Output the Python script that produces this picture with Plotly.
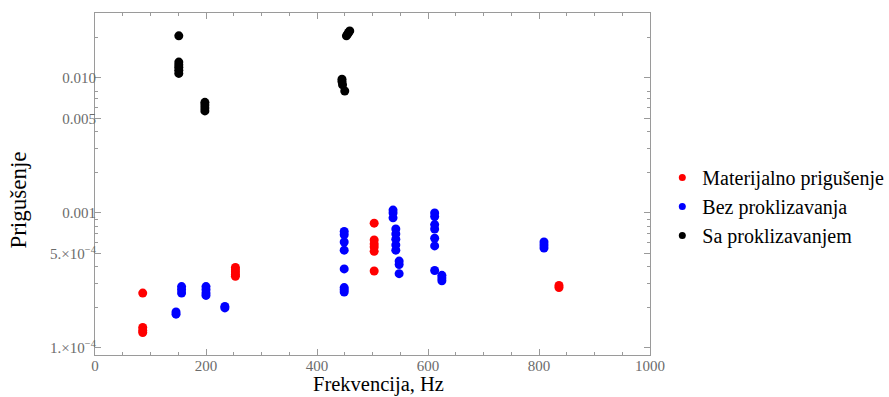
import plotly.graph_objects as go

# ---- data ----
mat_freq = [86, 86, 86, 86, 253, 253, 253, 253, 253, 503, 503, 503, 503, 503, 503, 836, 836]
mat_damp = [2.55e-4, 1.42e-4, 1.35e-4, 1.3e-4, 3.95e-4, 3.8e-4, 3.65e-4, 3.5e-4, 3.4e-4,
            8.4e-4, 6.3e-4, 5.9e-4, 5.6e-4, 5.2e-4, 3.72e-4, 2.9e-4, 2.8e-4]

bez_freq = [146, 146, 156, 156, 156, 200, 200, 200, 200, 234, 234,
            449, 449, 449, 449, 449, 449, 449, 449,
            537, 537, 537, 542, 542, 542, 542, 542, 548, 548, 548,
            612, 612, 612, 612, 612, 612, 612, 625, 625, 625, 809, 809, 809]
bez_damp = [1.85e-4, 1.78e-4, 2.85e-4, 2.7e-4, 2.55e-4, 2.85e-4, 2.7e-4, 2.55e-4, 2.45e-4, 2.03e-4, 1.98e-4,
            7.3e-4, 6.9e-4, 6.1e-4, 5.3e-4, 3.85e-4, 2.8e-4, 2.7e-4, 2.6e-4,
            1.05e-3, 1.0e-3, 9.2e-4, 7.6e-4, 7.0e-4, 6.4e-4, 5.8e-4, 5.3e-4, 4.4e-4, 4.15e-4, 3.55e-4,
            1.0e-3, 9.4e-4, 8.2e-4, 7.6e-4, 6.5e-4, 5.7e-4, 3.75e-4, 3.45e-4, 3.3e-4, 3.15e-4,
            6.1e-4, 5.8e-4, 5.5e-4]

sa_freq = [151, 151, 151, 151, 151, 151, 198, 198, 198, 198, 445, 445, 446, 450, 453, 455, 457, 459]
sa_damp = [0.0205, 0.0131, 0.0125, 0.012, 0.0114, 0.0108, 0.0066, 0.0063, 0.006, 0.0057,
           0.0098, 0.0094, 0.0089, 0.0080, 0.0205, 0.0211, 0.0217, 0.0223]

series_names = ["Materijalno prigušenje", "Bez proklizavanja", "Sa proklizavanjem"]
x_title = "Frekvencija, Hz"
y_title = "Prigušenje"

x_ticks = [0, 200, 400, 600, 800, 1000]
x_minor = [50, 100, 150, 250, 300, 350, 450, 500, 550, 650, 700, 750, 850, 900, 950]
y_ticks = [1e-4, 5e-4, 1e-3, 5e-3, 1e-2]
y_labels = ["1.×10<sup>−4</sup>", "5.×10<sup>−4</sup>", "0.001", "0.005", "0.010"]
y_minor = [2e-4, 3e-4, 4e-4, 6e-4, 7e-4, 8e-4, 9e-4, 2e-3, 3e-3, 4e-3, 6e-3, 7e-3, 8e-3, 2e-2]

serif = "Liberation Serif"
fig = go.Figure()
for name, xs, ys, col in [(series_names[0], mat_freq, mat_damp, "#ff0000"),
                          (series_names[1], bez_freq, bez_damp, "#0000ff"),
                          (series_names[2], sa_freq, sa_damp, "#000000")]:
    fig.add_trace(go.Scatter(x=xs, y=ys, mode="markers", name=name, showlegend=False,
                             marker=dict(color=col, size=9, line=dict(width=0))))
    fig.add_trace(go.Scatter(x=[None], y=[None], mode="markers", name=name,
                             marker=dict(color=col, size=7, line=dict(width=0))))

axis_common = dict(showline=True, linecolor="#9a9a9a", linewidth=1, mirror="ticks",
                   ticks="inside", ticklen=6, tickcolor="#9a9a9a", showgrid=False, zeroline=False,
                   automargin=False,
                   tickfont=dict(family=serif, size=15, color="#6b6b6b"))

fig.update_xaxes(range=[0, 1000], tickvals=x_ticks, ticklabelstandoff=-3,
                 minor=dict(tickvals=x_minor, ticks="inside", ticklen=3, tickcolor="#9a9a9a"),
                 **axis_common)
fig.update_yaxes(type="log", range=[-4.052, -1.519], tickvals=y_ticks, ticktext=y_labels,
                 ticklabelstandoff=-5,
                 minor=dict(tickvals=y_minor, ticks="inside", ticklen=3, tickcolor="#9a9a9a"),
                 **axis_common)

fig.add_annotation(text=x_title, xref="paper", yref="paper", x=0.5117, y=-0.1225,
                   xanchor="center", yanchor="bottom", showarrow=False, borderpad=0,
                   font=dict(family=serif, size=20.5, color="black"))
fig.add_annotation(text=y_title, xref="paper", yref="paper", x=-0.1378, y=0.453,
                   xanchor="center", yanchor="middle", showarrow=False, textangle=-90,
                   font=dict(family=serif, size=23, color="black"))

fig.update_layout(width=889, height=397, margin=dict(l=95, r=239, t=13, b=42),
                  paper_bgcolor="white", plot_bgcolor="white",
                  legend=dict(xref="container", yref="container", x=0.745, y=0.48,
                              xanchor="left", yanchor="middle",
                              font=dict(family=serif, size=20, color="black"),
                              itemwidth=30, tracegroupgap=0, bgcolor="rgba(0,0,0,0)"))

fig.write_html("out.html")
